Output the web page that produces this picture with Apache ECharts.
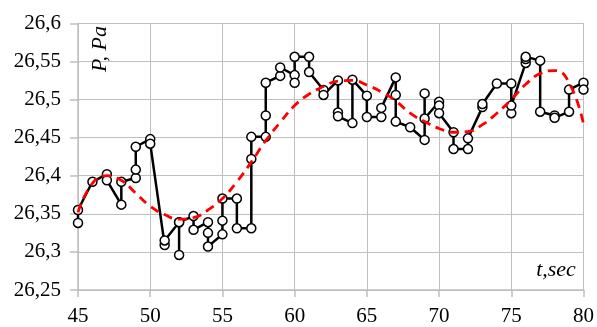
<!DOCTYPE html>
<html>
<head>
<meta charset="utf-8">
<script src="https://cdn.jsdelivr.net/npm/echarts@6/dist/echarts.min.js"></script>
<style>
html,body{margin:0;padding:0;background:#fff;}
#c{width:597px;height:327px;}
</style>
</head>
<body>
<div id="c"></div>
<script>
// measured series: time (s) and pressure (Pa), in drawing order
var measT = [45,45,46,47,47,48,48,49,49,49,50,50,51,51,52,52,52,53,53,54,54,54,55,55,55,56,56,57,57,57,58,58,58,59,59,60,60,60,61,61,62,62,63,63,63,64,64,65,65,66,66,67,67,67,68,69,69,69,70,70,70,71,71,72,72,73,73,74,75,75,75,76,76,76,77,77,78,78,79,79,80,80];
var measP = [26.338,26.355,26.392,26.402,26.394,26.362,26.392,26.397,26.408,26.438,26.448,26.442,26.309,26.315,26.339,26.296,26.339,26.347,26.329,26.339,26.325,26.307,26.323,26.341,26.370,26.370,26.331,26.331,26.422,26.451,26.451,26.479,26.522,26.531,26.542,26.532,26.522,26.556,26.556,26.536,26.5125,26.506,26.525,26.483,26.478,26.469,26.526,26.505,26.477,26.477,26.489,26.529,26.506,26.471,26.4636,26.447,26.508,26.475,26.497,26.492,26.482,26.457,26.435,26.435,26.449,26.490,26.494,26.521,26.521,26.482,26.492,26.548,26.553,26.556,26.551,26.484,26.479,26.476,26.484,26.513,26.522,26.513];
// trend curve
var trendT = [45,46,47,48,49,50,51,52,53,54,55,56,57,58,59,60,61,62,63,64,65,66,67,68,69,70,71,72,73,74,75,76,77,78,79,80];
var trendP = [26.352,26.390,26.400,26.394,26.377,26.360,26.349,26.343,26.345,26.355,26.370,26.392,26.418,26.446,26.470,26.492,26.507,26.517,26.524,26.525,26.519,26.510,26.498,26.482,26.471,26.462,26.457,26.458,26.467,26.482,26.500,26.520,26.534,26.538,26.522,26.468];
var xTicks = [45,50,55,60,65,70,75,80];
var yTicks = [26.25,26.3,26.35,26.4,26.45,26.5,26.55,26.6];
var yLabel = 'P, Pa';
var xLabel = 't,sec';

var measData = measT.map(function(t,i){return [t, measP[i]];});
var trendData = trendT.map(function(t,i){return [t, trendP[i]];});

var serif = '"Liberation Serif", "Times New Roman", serif';
var gridCol = '#bfbfbf';
var chart = echarts.init(document.getElementById('c'), null, {renderer:'canvas'});
chart.setOption({
  animation:false,
  backgroundColor:'#fff',
  grid:{left:78, right:11.5, top:23.3, bottom:34.3, containLabel:false},
  xAxis:{
    type:'value', min:xTicks[0], max:xTicks[xTicks.length-1], interval:5,
    axisLine:{show:true, lineStyle:{color:gridCol, width:1.5}},
    axisTick:{show:true, length:7, lineStyle:{color:gridCol, width:1.5}},
    axisLabel:{fontFamily:serif, fontSize:21, color:'#000', margin:16},
    splitLine:{show:true, lineStyle:{color:gridCol, width:1}}
  },
  yAxis:{
    type:'value', min:yTicks[0], max:yTicks[yTicks.length-1], interval:0.05,
    axisLine:{show:true, lineStyle:{color:gridCol, width:1.5}},
    axisTick:{show:true, length:8, lineStyle:{color:gridCol, width:1.5}},
    axisLabel:{fontFamily:serif, fontSize:21, color:'#000', margin:17,
      formatter:function(v){return String(+(+v).toFixed(2)).replace('.', ',');}},
    splitLine:{show:true, lineStyle:{color:gridCol, width:1}}
  },
  series:[
    {
      type:'line', data:measData, z:2,
      symbol:'circle', symbolSize:9,
      itemStyle:{color:'#fff', borderColor:'#000', borderWidth:1.5},
      lineStyle:{color:'#000', width:2.5}
    },
    {
      type:'line', data:trendData, z:3, smooth:0.5,
      symbol:'none',
      lineStyle:{color:'#ff0000', width:2.8, type:[9,6]}
    }
  ],
  graphic:[
    {type:'text', x:100, y:49, rotation:Math.PI/2, z:10,
      style:{text:yLabel, fontFamily:serif, fontStyle:'italic', fontSize:22, fill:'#000', textAlign:'center', textVerticalAlign:'middle'}},
    {type:'text', x:556, y:270, z:10,
      style:{text:xLabel, fontFamily:serif, fontStyle:'italic', fontSize:22, fill:'#000', textAlign:'center', textVerticalAlign:'middle'}}
  ]
});
</script>
</body>
</html>
